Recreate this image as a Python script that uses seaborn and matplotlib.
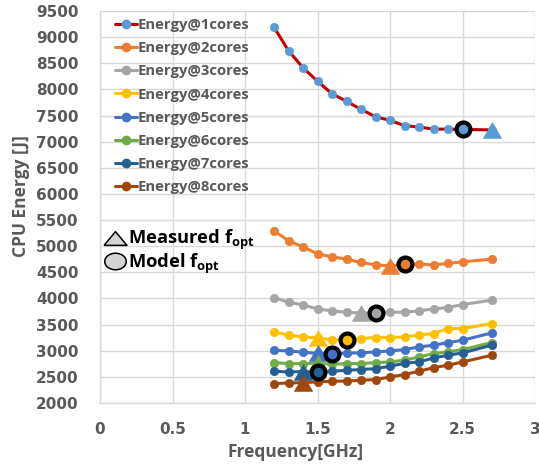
import matplotlib
matplotlib.use("Agg")
import matplotlib.pyplot as plt
import seaborn as sns
import pandas as pd
import numpy as np
from matplotlib.lines import Line2D

sns.set_theme(style="white")
plt.rcParams['font.family'] = ['Open Sans', 'DejaVu Sans']
plt.rcParams['mathtext.fontset'] = 'custom'
plt.rcParams['mathtext.bf'] = 'Open Sans:bold'
plt.rcParams['mathtext.rm'] = 'Open Sans:bold'

freqs = [1.2, 1.3, 1.4, 1.5, 1.6, 1.7, 1.8, 1.9, 2.0, 2.1, 2.2, 2.3, 2.4, 2.5, 2.7]
e1 = [9190, 8740, 8415, 8155, 7917, 7772, 7618, 7477, 7408, 7305, 7280, 7240, 7240, 7235, 7225]
e2 = [5294, 5103, 4988, 4854, 4796, 4752, 4689, 4643, 4625, 4650, 4656, 4643, 4670, 4700, 4752]
e3 = [4018, 3928, 3877, 3800, 3762, 3737, 3720, 3725, 3737, 3737, 3762, 3800, 3827, 3884, 3967]
e4 = [3354, 3302, 3264, 3240, 3214, 3200, 3233, 3252, 3252, 3264, 3302, 3329, 3425, 3425, 3520]
e5 = [3009, 2996, 2971, 2950, 2932, 2958, 2958, 2977, 2996, 3022, 3073, 3105, 3156, 3200, 3340]
e6 = [2773, 2754, 2754, 2760, 2741, 2754, 2754, 2773, 2785, 2820, 2881, 2946, 2977, 3022, 3156]
e7 = [2607, 2594, 2600, 2594, 2607, 2626, 2639, 2658, 2703, 2760, 2785, 2862, 2913, 2958, 3105]
e8 = [2371, 2383, 2390, 2402, 2416, 2420, 2435, 2448, 2498, 2545, 2607, 2677, 2722, 2785, 2913]
series_labels = ["Energy@1cores", "Energy@2cores", "Energy@3cores", "Energy@4cores",
                 "Energy@5cores", "Energy@6cores", "Energy@7cores", "Energy@8cores"]
measured_fopt = [2.7, 2.0, 1.8, 1.5, 1.5, 1.5, 1.4, 1.4]
model_fopt = [2.5, 2.1, 1.9, 1.7, 1.6, None, 1.5, None]
x_ticks = [0, 0.5, 1, 1.5, 2, 2.5, 3]
y_ticks = list(range(2000, 10000, 500))

series = [e1, e2, e3, e4, e5, e6, e7, e8]
marker_colors = ["#5B9BD5", "#ED7D31", "#A5A5A5", "#FFC000",
                 "#4472C4", "#70AD47", "#255E91", "#9E480E"]
line_colors = ["#C00000"] + marker_colors[1:]

df = pd.DataFrame({
    "freq": freqs * len(series),
    "energy": [v for s in series for v in s],
    "series": [lab for lab in series_labels for _ in freqs],
})

W, H = 539, 468
fig = plt.figure(figsize=(W / 100, H / 100), dpi=100)
ax = fig.add_axes([100 / W, 1 - 403 / H, 435 / W, 392 / H])

gray = "#595959"
tri = [(-1, -0.866), (1, -0.866), (0, 0.866), (-1, -0.866)]
handles = []
for i, lab in enumerate(series_labels):
    sub = df[df["series"] == lab]
    sns.lineplot(data=sub, x="freq", y="energy", ax=ax, color=line_colors[i],
                 lw=2.2, marker="o", markersize=6, markerfacecolor=marker_colors[i],
                 markeredgecolor=marker_colors[i], markeredgewidth=0.5,
                 zorder=3 + i * 0.1, legend=False)
    handles.append(Line2D([], [], color=line_colors[i], lw=2.2, marker="o",
                          markersize=6, markerfacecolor=marker_colors[i],
                          markeredgecolor=marker_colors[i]))

# measured fopt triangles
for i, s in enumerate(series):
    fx = measured_fopt[i]
    fy = s[freqs.index(fx)]
    ax.plot([fx], [fy], marker=tri, markersize=13, color=marker_colors[i],
            markeredgecolor=marker_colors[i], markeredgewidth=0.5,
            zorder=6 + i * 0.1, ls="none")

# model fopt circles
for i, s in enumerate(series):
    fx = model_fopt[i]
    if fx is None:
        continue
    fy = s[freqs.index(fx)]
    ax.plot([fx], [fy], marker="o", markersize=10, markerfacecolor=marker_colors[i],
            markeredgecolor="black", markeredgewidth=3, zorder=8 + i * 0.1, ls="none")

ax.set_xlim(0, 3)
ax.set_ylim(2000, 9500)
ax.set_xticks(x_ticks)
ax.set_xticklabels([f"{t:g}" for t in x_ticks])
ax.set_yticks(y_ticks)
ax.set_xlabel("")
ax.set_ylabel("")
ax.grid(True, color="#D9D9D9", lw=1)
ax.set_axisbelow(True)
for sp in ["top", "right"]:
    ax.spines[sp].set_visible(False)
for sp in ["left", "bottom"]:
    ax.spines[sp].set_color("#D9D9D9")
    ax.spines[sp].set_linewidth(1)
ax.tick_params(axis="both", length=0, labelcolor=gray)
ax.tick_params(axis="x", pad=14)
ax.tick_params(axis="y", pad=15.5)
for lbl in ax.get_xticklabels() + ax.get_yticklabels():
    lbl.set_fontweight("bold")
    lbl.set_fontfamily("DejaVu Sans")
    lbl.set_fontsize(11)

fig.text(296 / W, 1 - 452 / H, "Frequency[GHz]", fontsize=12.5, fontweight="bold",
         color=gray, ha="center", va="center")
fig.text(21 / W, 1 - 196 / H, "CPU Energy [J]", fontsize=12.5, fontweight="bold",
         color=gray, ha="center", va="center", rotation=90)

leg1 = ax.legend(handles, series_labels, loc="upper left",
                 bbox_to_anchor=(15 / 435, 1 - 7 / 392),
                 frameon=False, prop={"size": 10.7, "weight": "bold"},
                 handlelength=1.45, handletextpad=0.05,
                 labelspacing=0.62, borderaxespad=0, borderpad=0)
for t in leg1.get_texts():
    t.set_color(gray)
ax.add_artist(leg1)

tri_flat = [(-1, -0.6), (1, -0.6), (0, 0.6), (-1, -0.6)]
theta = np.linspace(0, 2 * np.pi, 60)
ellipse = list(zip(np.cos(theta), 0.77 * np.sin(theta)))
h2 = [Line2D([], [], ls="none", marker=tri_flat, markersize=16.5, markerfacecolor="#D4D4D4",
             markeredgecolor="black", markeredgewidth=1.1),
      Line2D([], [], ls="none", marker=ellipse, markersize=15.5, markerfacecolor="#D4D4D4",
             markeredgecolor="black", markeredgewidth=1.1)]
leg2 = ax.legend(h2, [r"Measured $\mathbf{f_{opt}}$", r"Model $\mathbf{f_{opt}}$"],
                 loc="center left", bbox_to_anchor=(4 / 435, (403 - 252) / 392),
                 frameon=False, prop={"size": 13.2, "weight": "bold"},
                 handlelength=1.15, handletextpad=0.15, labelspacing=-0.05,
                 borderaxespad=0, borderpad=0)
for t in leg2.get_texts():
    t.set_color("black")

fig.savefig("out.png", dpi=100)
